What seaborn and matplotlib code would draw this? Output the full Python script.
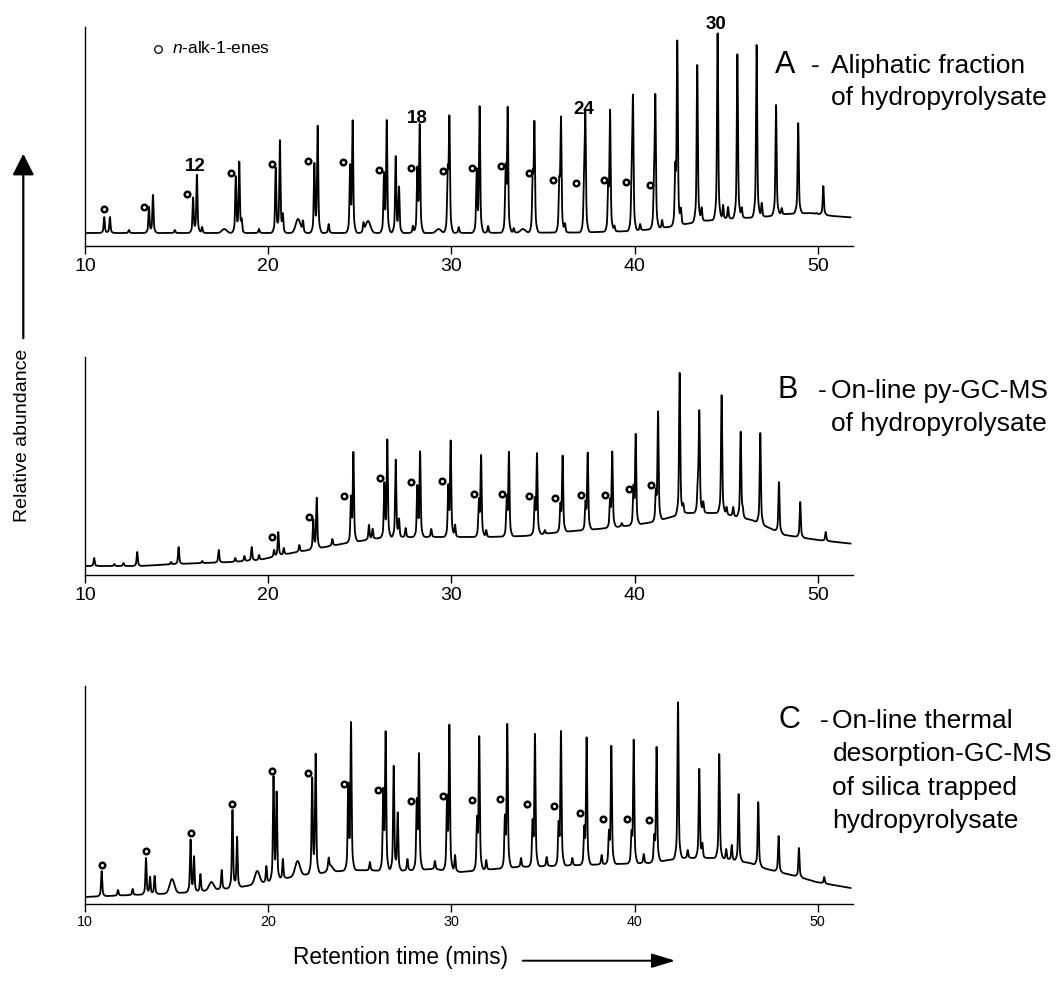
import numpy as np
import pandas as pd
import matplotlib
matplotlib.use("Agg")
import matplotlib.pyplot as plt
from matplotlib.patches import FancyArrowPatch
import seaborn as sns

# ---------------- data ----------------
tick_values = [10, 20, 30, 40, 50]
labelled_carbons = [12, 18, 24, 30]

# Panel A - aliphatic fraction of hydropyrolysate
A_alkane_carbon = list(range(10, 36))
A_alkane_time = [11.36, 13.71, 16.11, 18.42, 20.64, 22.70, 24.61, 26.47, 28.27, 29.89,
                 31.54, 33.07, 34.53, 35.98, 37.31, 38.66, 39.91, 41.13, 42.33, 43.42,
                 44.53, 45.61, 46.66, 47.72, 48.93, 50.30]
A_alkane_apex = [29, 51, 71, 83, 105, 119, 123, 124, 119, 125,
                 138, 135, 120, 125, 128, 133, 144, 146, 202, 181,
                 213, 192, 201, 141, 123, 60]
A_alkene_time = [11.05, 13.49, 15.90, 18.23, 20.41, 22.52, 24.47, 26.32, 28.14, 29.80,
                 31.38, 32.96, 34.44, 35.89, 37.24, 38.56, 39.84, 41.06, 42.22]
A_alkene_apex = [29, 39, 48, 69, 78, 81, 77, 70, 74, 70,
                 74, 74, 66, 59, 54, 53, 58, 53, 71]
A_marker_time = [11.05, 13.20, 15.58, 17.99, 20.21, 22.17, 24.08, 26.05, 27.79, 29.53,
                 31.12, 32.71, 34.25, 35.55, 36.82, 38.31, 39.55, 40.82]
A_marker_level = [36.7, 38.7, 52.3, 73, 82, 85.3, 83.7, 76, 78.3, 75.3,
                  78.3, 80.3, 73.3, 66, 62.7, 65.7, 64, 60.7]
A_other_time = [16.39, 18.55, 20.80, 26.96, 27.14, 32.0, 36.2, 42.53, 43.66, 44.83,
                45.10, 45.85, 46.94, 48.03, 49.94, 23.3, 19.5, 12.4, 14.9, 21.9,
                25.2, 27.9, 30.4, 33.4, 38.9, 40.3, 41.5]
A_other_apex = [19, 24, 30, 89, 58, 20, 22, 36, 38, 41,
                39, 38, 43, 38, 33, 22, 17, 16, 16, 24,
                22, 20, 19, 18, 20, 22, 26]
A_hump_time = [21.63, 25.45, 17.6, 29.3, 33.9]
A_hump_apex = [27, 25, 17, 17, 17]
A_base_time = [10, 30, 37, 40, 41.5, 42.5, 43.7, 45.4, 47, 48.3, 49.6, 50.8, 51.9]
A_base_level = [13, 13, 13.5, 15, 18, 21, 25, 27.5, 29, 32, 33, 30, 28.5]

# Panel B - on-line py-GC-MS of hydropyrolysate
B_alkane_carbon = list(range(14, 36))
B_alkane_time = [20.55, 22.65, 24.65, 26.50, 28.29, 29.96, 31.62, 33.14, 34.67, 36.07,
                 37.44, 38.78, 40.06, 41.28, 42.46, 43.53, 44.75, 45.79, 46.86, 47.88,
                 49.04, 50.43]
B_alkane_apex = [43, 77, 121, 134, 122, 132, 118, 121, 120, 118,
                 121, 122, 139, 162, 202, 162, 180, 143, 142, 93,
                 73, 43]
B_alkene_time = [20.32, 22.46, 24.52, 26.34, 28.14, 29.83, 31.50, 33.02, 34.55, 35.95,
                 37.32, 38.66, 39.94, 41.16, 43.45]
B_alkene_apex = [25, 55, 75, 90, 87, 86, 72, 75, 73, 68,
                 70, 72, 85, 80, 85]
B_marker_time = [20.19, 22.21, 24.12, 26.09, 27.81, 29.47, 31.25, 32.74, 34.25, 35.63,
                 37.07, 38.40, 39.71, 40.88]
B_marker_level = [38, 58, 79, 97, 93, 94, 81, 81, 79, 77, 80, 80, 86, 90]
B_other_time = [10.5, 11.6, 12.1, 12.85, 14.7, 15.11, 16.4, 17.3, 18.2, 18.7,
                19.1, 19.5, 20.85, 21.7, 23.5, 25.5, 25.7, 26.96, 27.14, 27.5,
                28.9, 30.2, 31.9, 42.66, 43.75, 45.02, 45.38, 45.9, 35.1, 39.3]
B_other_apex = [17, 11, 12, 23, 13, 28, 14, 25, 17, 19,
                28, 20, 27, 30, 36, 50, 46, 115, 55, 47,
                46, 50, 45, 70, 73, 68, 68, 63, 45, 52]
B_base_time = [10, 13, 15, 18, 19.5, 21, 22.5, 24.3, 26.1, 28, 30, 32, 34, 36, 38, 40,
               41, 42.8, 44.6, 46.4, 48.2, 50, 52]
B_base_level = [9, 9, 11, 13, 15, 21, 26, 32, 37, 38, 38, 38, 39, 43, 46, 50,
                53, 62, 62, 55, 40, 35, 31]

# Panel C - on-line thermal desorption-GC-MS of silica trapped hydropyrolysate
C_alkane_carbon = list(range(11, 36))
C_alkane_time = [13.55, 15.95, 18.30, 20.46, 22.59, 24.52, 26.41, 28.23, 29.89, 31.52,
                 33.05, 34.56, 35.98, 37.38, 38.73, 39.95, 41.20, 42.37, 43.53, 44.62,
                 45.68, 46.75, 47.86, 48.97, 50.35]
C_alkane_apex = [27, 47, 67, 110, 149, 179, 169, 147, 176, 165,
                 178, 168, 171, 165, 157, 163, 156, 202, 135, 150,
                 110, 102, 68, 56, 27]
C_alkene_time = [10.91, 13.33, 15.76, 18.05, 20.29, 22.40, 24.37, 26.28, 28.11, 29.76,
                 31.40, 32.92, 34.43, 35.85, 37.25, 38.60, 39.83, 41.07]
C_alkene_apex = [33, 46, 64, 94, 126, 125, 116, 109, 99, 102,
                 80, 82, 78, 76, 72, 68, 66, 64]
C_marker_time = [10.94, 13.33, 15.77, 18.01, 20.22, 22.16, 24.15, 26.01, 27.79, 29.52,
                 31.13, 32.64, 34.13, 35.60, 37.02, 38.29, 39.59, 40.80]
C_marker_level = [39, 53, 71, 100, 133, 131, 120, 114, 103, 108,
                  104, 105, 100, 98, 91, 85, 85, 84]
C_other_time = [26.85, 27.07, 17.46, 25.55, 30.20, 43.70, 45.00, 45.30, 16.3, 19.9,
                23.3, 27.6, 29.1, 36.6, 40.5, 42.9, 13.8, 20.8, 11.8, 12.6,
                31.9, 33.8, 35.2, 38.2]
C_other_apex = [138, 91, 34, 42, 49, 59, 55, 59, 30, 38,
                42, 45, 43, 46, 50, 54, 28, 45, 14, 15,
                44, 46, 47, 49]
C_hump_time = [14.75, 21.60, 19.40, 23.4, 16.9]
C_hump_apex = [25, 43, 33, 38, 22]
C_base_time = [10, 12.5, 14, 16, 18.5, 20, 21.8, 24.5, 27, 29, 30.5, 33.6, 37.2, 40.8,
               42.6, 44.5, 46.3, 47.2, 48.1, 49, 49.9, 51.8]
C_base_level = [7, 9, 10, 12, 17, 22, 29, 34, 33, 35, 32, 37, 39, 41,
                46, 46, 41, 35, 31, 27, 22, 16]


# ---------------- helpers ----------------
def build_trace(t, base_t, base_v, peaks, sigma, humps=None, hump_sigma=0.13):
    base = np.interp(t, base_t, base_v)
    y = base.copy()
    for pt, pa in peaks:
        amp = pa - np.interp(pt, base_t, base_v)
        shape = 0.85 * np.exp(-0.5 * ((t - pt) / sigma) ** 2) \
            + 0.15 * np.exp(-0.5 * ((t - pt) / (3 * sigma)) ** 2)
        y += amp * shape
    if humps:
        for pt, pa in humps:
            amp = pa - np.interp(pt, base_t, base_v)
            y += amp * np.exp(-0.5 * ((t - pt) / hump_sigma) ** 2)
    return y


W, H = 1064, 986


def fx(x):
    return x / W


def fy(y):
    return 1 - y / H


sns.set_theme(style="ticks")
plt.rcParams["font.family"] = ["Liberation Sans", "DejaVu Sans"]
plt.rcParams["mathtext.fontset"] = "custom"
plt.rcParams["mathtext.it"] = "Liberation Sans:italic"
plt.rcParams["mathtext.rm"] = "Liberation Sans"
plt.rcParams["text.color"] = "black"
plt.rcParams["axes.labelcolor"] = "black"
plt.rcParams["xtick.color"] = "black"
plt.rcParams["ytick.color"] = "black"
plt.rcParams["axes.edgecolor"] = "black"

fig = plt.figure(figsize=(W / 100, H / 100), dpi=100)
fig.patch.set_facecolor("white")

t_grid = np.arange(10.0, 51.8, 0.004)
SIG = 0.03

panels = [
    dict(top=27, bottom=246,
         alk=(A_alkane_time, A_alkane_apex, A_alkane_carbon),
         ene=(A_alkene_time, A_alkene_apex),
         mk=(A_marker_time, A_marker_level),
         oth=(A_other_time, A_other_apex),
         hump=(A_hump_time, A_hump_apex),
         base=(A_base_time, A_base_level),
         tfs=14, label_numbers=True),
    dict(top=357, bottom=575,
         alk=(B_alkane_time, B_alkane_apex, B_alkane_carbon),
         ene=(B_alkene_time, B_alkene_apex),
         mk=(B_marker_time, B_marker_level),
         oth=(B_other_time, B_other_apex),
         hump=None,
         base=(B_base_time, B_base_level),
         tfs=14, label_numbers=False),
    dict(top=686, bottom=904,
         alk=(C_alkane_time, C_alkane_apex, C_alkane_carbon),
         ene=(C_alkene_time, C_alkene_apex),
         mk=(C_marker_time, C_marker_level),
         oth=(C_other_time, C_other_apex),
         hump=(C_hump_time, C_hump_apex),
         base=(C_base_time, C_base_level),
         tfs=10.3, label_numbers=False),
]

x_left, x_right = 85, 853
xmax = 10 + (x_right - x_left) / 18.32
axes = []
for p in panels:
    ax = fig.add_axes([fx(x_left), fy(p["bottom"]), (x_right - x_left) / W,
                       (p["bottom"] - p["top"]) / H])
    axes.append(ax)
    peaks = list(zip(p["alk"][0], p["alk"][1])) + list(zip(*p["ene"])) + list(zip(*p["oth"]))
    humps = list(zip(*p["hump"])) if p["hump"] else None
    y = build_trace(t_grid, p["base"][0], p["base"][1], peaks, SIG, humps)
    df = pd.DataFrame({"time": t_grid, "signal": y})
    sns.lineplot(data=df, x="time", y="signal", ax=ax, color="black", lw=1.3,
                 estimator=None, sort=False)
    mdf = pd.DataFrame({"time": p["mk"][0], "level": p["mk"][1]})
    sns.scatterplot(data=mdf, x="time", y="level", ax=ax, marker="o", s=16,
                    facecolor="white", edgecolor="black", linewidth=1.8, zorder=5)
    ax.set_xlim(10, xmax)
    ax.set_ylim(0, p["bottom"] - p["top"])
    ax.set_xticks(tick_values)
    ax.set_xticklabels([str(v) for v in tick_values])
    ax.set_yticks([])
    ax.set_xlabel("")
    ax.set_ylabel("")
    for s in ["top", "right"]:
        ax.spines[s].set_visible(False)
    for s in ["left", "bottom"]:
        ax.spines[s].set_linewidth(1.0)
        ax.spines[s].set_color("black")
    ax.tick_params(axis="x", direction="out", length=5.5, width=1.0, color="black",
                   labelsize=p["tfs"], pad=3 if p["tfs"] > 12 else 2.5, labelcolor="black")
    ax.set_facecolor("white")
    if p["label_numbers"]:
        for c, tt, aa in zip(p["alk"][2], p["alk"][0], p["alk"][1]):
            if c in labelled_carbons:
                ax.annotate(str(c), xy=(tt, aa), xytext=(-2, 4), textcoords="offset pixels",
                            ha="center", va="baseline", fontsize=13.5, fontweight="bold",
                            color="black")

# legend key in panel A
axA = axes[0]
axA.scatter([(157.7 - x_left) / (x_right - x_left)], [(246 - 49) / 219], s=30,
            facecolor="white", edgecolor="black", linewidth=0.9, transform=axA.transAxes)
axA.text((171.5 - x_left) / (x_right - x_left), (246 - 53.3) / 219, r"$\mathit{n}$-alk-1-enes",
         transform=axA.transAxes, fontsize=12.5, va="baseline", ha="left", color="black")

# panel titles
big = 22
txt = 19
fig.text(fx(775), fy(73), "A", fontsize=big, va="baseline", ha="left")
fig.text(fx(810.5), fy(73), "-", fontsize=txt, va="baseline", ha="left")
fig.text(fx(831), fy(73), "Aliphatic fraction", fontsize=txt, va="baseline", ha="left")
fig.text(fx(831), fy(105), "of hydropyrolysate", fontsize=txt, va="baseline", ha="left")

fig.text(fx(778), fy(398), "B", fontsize=big, va="baseline", ha="left")
fig.text(fx(817.5), fy(398), "-", fontsize=txt, va="baseline", ha="left")
fig.text(fx(831), fy(398), "On-line py-GC-MS", fontsize=txt, va="baseline", ha="left")
fig.text(fx(831), fy(431), "of hydropyrolysate", fontsize=txt, va="baseline", ha="left")

fig.text(fx(779), fy(728), "C", fontsize=big, va="baseline", ha="left")
fig.text(fx(819.5), fy(728), "-", fontsize=txt, va="baseline", ha="left")
for i, line in enumerate(["On-line thermal", "desorption-GC-MS", "of silica trapped",
                          "hydropyrolysate"]):
    fig.text(fx(832.5), fy(728 + i * 33.4), line, fontsize=txt, va="baseline", ha="left")

# axis captions with arrows
fig.text(fx(22.5), fy(435), "Relative abundance", rotation=90, ha="center", va="center",
         fontsize=14)
fig.add_artist(FancyArrowPatch((fx(23.3), fy(341)), (fx(23.3), fy(151)),
                               transform=fig.transFigure,
                               arrowstyle="-|>,head_length=0.65,head_width=0.33",
                               mutation_scale=20, lw=1.6, color="black"))
fig.text(fx(293), fy(964), "Retention time (mins)", ha="left", va="baseline", fontsize=16.3)
fig.add_artist(FancyArrowPatch((fx(520), fy(960.7)), (fx(678), fy(960.7)),
                               transform=fig.transFigure,
                               arrowstyle="-|>,head_length=0.72,head_width=0.22",
                               mutation_scale=20, lw=1.4, color="black"))

fig.savefig("out.png", dpi=100, facecolor="white")
